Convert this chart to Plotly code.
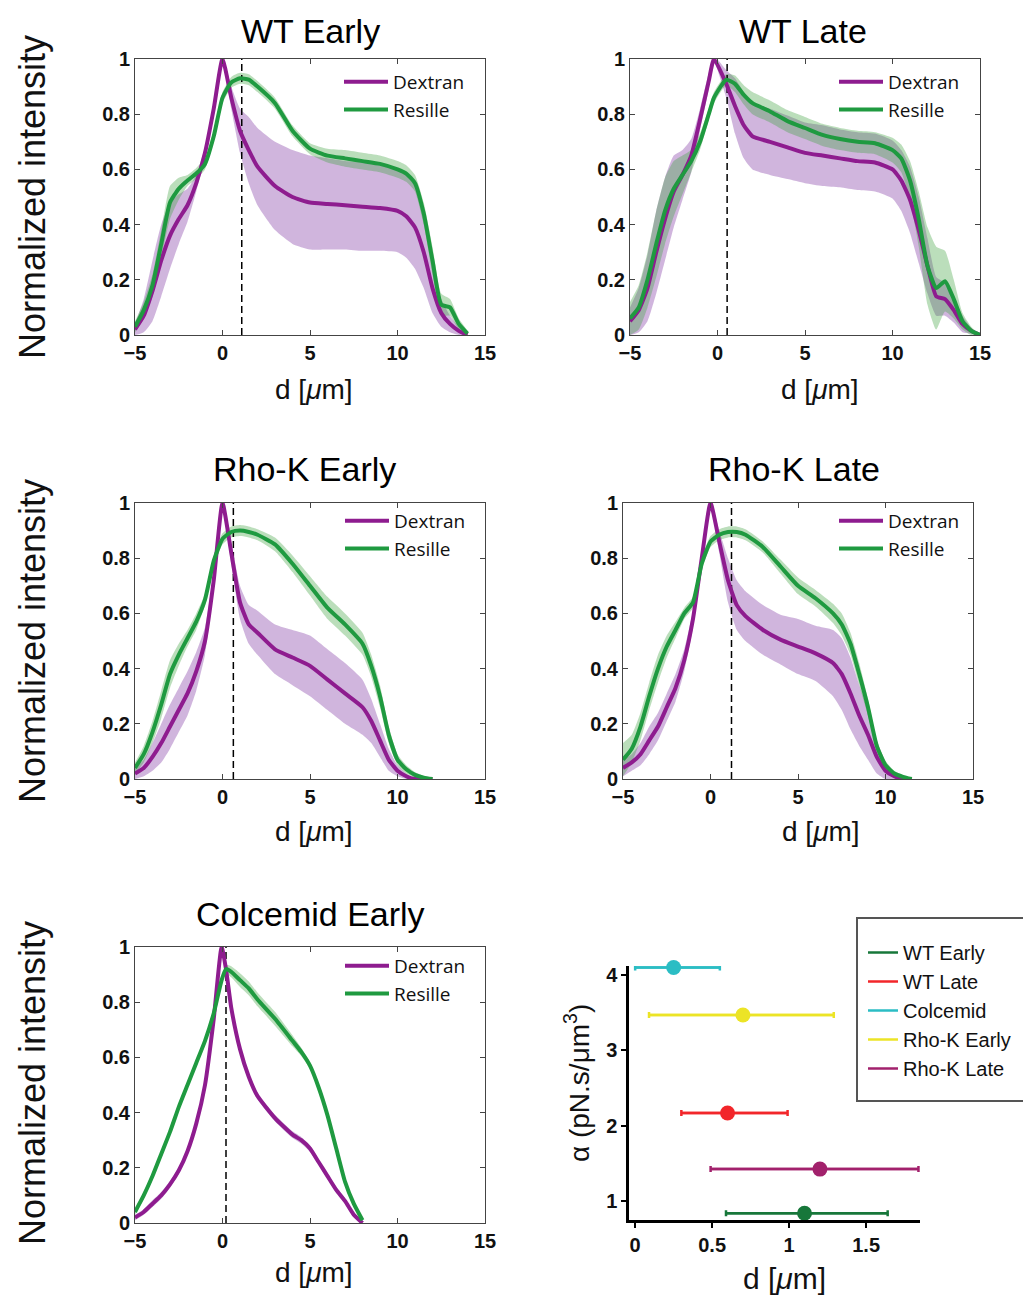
import numpy as np
import plotly.graph_objects as go

# ---------------- data ----------------
series_names = ["Dextran", "Resille"]

# WT Early
wte_x = [-5, -4.5, -4, -3.5, -3, -2.5, -2, -1.5, -1, -0.5, 0, 0.5, 1, 1.5, 2, 3, 4, 5, 6, 7, 8, 9, 10, 10.5, 11, 11.5, 12, 12.5, 13, 13.5, 14]
wte_dex = [0.02, 0.07, 0.16, 0.27, 0.36, 0.42, 0.47, 0.55, 0.66, 0.82, 1.00, 0.86, 0.74, 0.67, 0.61, 0.54, 0.50, 0.48, 0.475, 0.47, 0.465, 0.46, 0.45, 0.43, 0.39, 0.30, 0.17, 0.08, 0.04, 0.015, 0.0]
wte_dex_sd = [0.02, 0.06, 0.11, 0.13, 0.12, 0.09, 0.06, 0.03, 0.02, 0.02, 0.01, 0.04, 0.08, 0.12, 0.14, 0.16, 0.17, 0.17, 0.165, 0.16, 0.16, 0.155, 0.15, 0.15, 0.15, 0.13, 0.09, 0.05, 0.03, 0.015, 0.0]
wte_res = [0.03, 0.09, 0.18, 0.33, 0.48, 0.53, 0.56, 0.585, 0.62, 0.72, 0.86, 0.915, 0.93, 0.925, 0.90, 0.84, 0.74, 0.675, 0.65, 0.64, 0.63, 0.62, 0.60, 0.585, 0.55, 0.44, 0.27, 0.11, 0.10, 0.04, 0.005]
wte_res_sd = [0.02, 0.03, 0.04, 0.05, 0.06, 0.04, 0.02, 0.02, 0.02, 0.02, 0.02, 0.02, 0.02, 0.02, 0.02, 0.02, 0.02, 0.02, 0.025, 0.03, 0.03, 0.03, 0.03, 0.03, 0.03, 0.04, 0.05, 0.04, 0.03, 0.02, 0.01]
wte_d = 1.1

# WT Late
wtl_x = [-5, -4.5, -4, -3.5, -3, -2.5, -2, -1.5, -1, -0.5, -0.2, 0.5, 1, 1.5, 2, 3, 4, 5, 6, 7, 8, 9, 10, 10.5, 11, 11.5, 12, 12.5, 13, 13.5, 14, 14.5, 15]
wtl_dex = [0.05, 0.09, 0.17, 0.30, 0.42, 0.52, 0.58, 0.65, 0.78, 0.92, 1.00, 0.91, 0.83, 0.76, 0.72, 0.70, 0.68, 0.66, 0.65, 0.64, 0.63, 0.625, 0.60, 0.56, 0.49, 0.38, 0.25, 0.14, 0.13, 0.09, 0.04, 0.015, 0.0]
wtl_dex_sd = [0.05, 0.08, 0.12, 0.15, 0.15, 0.13, 0.09, 0.06, 0.04, 0.03, 0.01, 0.05, 0.10, 0.12, 0.12, 0.12, 0.115, 0.11, 0.11, 0.105, 0.105, 0.105, 0.105, 0.11, 0.12, 0.12, 0.10, 0.07, 0.06, 0.045, 0.03, 0.01, 0.0]
wtl_res = [0.06, 0.10, 0.20, 0.33, 0.45, 0.53, 0.58, 0.63, 0.70, 0.80, 0.86, 0.925, 0.91, 0.87, 0.84, 0.81, 0.775, 0.75, 0.725, 0.71, 0.70, 0.695, 0.67, 0.64, 0.56, 0.42, 0.25, 0.17, 0.195, 0.13, 0.05, 0.015, 0.0]
wtl_res_sd = [0.06, 0.08, 0.10, 0.12, 0.12, 0.10, 0.07, 0.04, 0.03, 0.02, 0.02, 0.02, 0.03, 0.035, 0.04, 0.04, 0.04, 0.04, 0.04, 0.04, 0.04, 0.04, 0.045, 0.05, 0.07, 0.10, 0.14, 0.15, 0.11, 0.07, 0.03, 0.015, 0.0]
wtl_d = 0.55

# Rho-K Early
rke_x = [-5, -4.5, -4, -3.5, -3, -2.5, -2, -1.5, -1, -0.5, 0, 0.5, 1, 1.5, 2, 3, 4, 5, 6, 7, 8, 8.5, 9, 9.5, 10, 10.5, 11, 11.5, 12]
rke_dex = [0.02, 0.04, 0.08, 0.13, 0.19, 0.25, 0.31, 0.39, 0.50, 0.72, 1.00, 0.82, 0.64, 0.56, 0.53, 0.47, 0.44, 0.41, 0.36, 0.31, 0.26, 0.21, 0.14, 0.07, 0.03, 0.01, 0.0, 0.0, 0.0]
rke_dex_sd = [0.02, 0.03, 0.05, 0.07, 0.08, 0.08, 0.08, 0.07, 0.05, 0.03, 0.01, 0.04, 0.06, 0.07, 0.08, 0.09, 0.10, 0.11, 0.11, 0.11, 0.10, 0.08, 0.06, 0.04, 0.02, 0.01, 0.0, 0.0, 0.0]
rke_res = [0.04, 0.09, 0.17, 0.27, 0.38, 0.45, 0.51, 0.57, 0.65, 0.79, 0.87, 0.895, 0.90, 0.895, 0.885, 0.85, 0.78, 0.70, 0.62, 0.56, 0.49, 0.41, 0.30, 0.16, 0.07, 0.035, 0.015, 0.005, 0.0]
rke_res_sd = [0.02, 0.03, 0.04, 0.05, 0.05, 0.04, 0.03, 0.03, 0.02, 0.02, 0.02, 0.02, 0.02, 0.02, 0.02, 0.025, 0.03, 0.035, 0.04, 0.04, 0.04, 0.04, 0.04, 0.03, 0.02, 0.015, 0.01, 0.005, 0.0]
rke_d = 0.62

# Rho-K Late
rkl_x = [-5, -4.5, -4, -3.5, -3, -2.5, -2, -1.5, -1, -0.5, 0, 0.5, 1, 1.5, 2, 3, 4, 5, 6, 7, 7.5, 8, 8.5, 9, 9.5, 10, 10.5, 11, 11.5]
rkl_dex = [0.04, 0.06, 0.09, 0.14, 0.19, 0.26, 0.33, 0.43, 0.58, 0.80, 1.00, 0.86, 0.72, 0.63, 0.59, 0.54, 0.505, 0.48, 0.455, 0.42, 0.38, 0.31, 0.23, 0.16, 0.08, 0.03, 0.01, 0.0, 0.0]
rkl_dex_sd = [0.03, 0.03, 0.04, 0.05, 0.05, 0.05, 0.05, 0.04, 0.03, 0.02, 0.01, 0.04, 0.08, 0.09, 0.09, 0.09, 0.09, 0.10, 0.10, 0.12, 0.13, 0.13, 0.11, 0.09, 0.06, 0.03, 0.01, 0.0, 0.0]
rkl_res = [0.07, 0.11, 0.19, 0.30, 0.40, 0.48, 0.54, 0.60, 0.64, 0.78, 0.86, 0.885, 0.895, 0.895, 0.885, 0.84, 0.77, 0.70, 0.655, 0.60, 0.56, 0.49, 0.38, 0.26, 0.12, 0.05, 0.02, 0.008, 0.0]
rkl_res_sd = [0.06, 0.05, 0.05, 0.05, 0.05, 0.04, 0.03, 0.02, 0.02, 0.02, 0.02, 0.02, 0.02, 0.02, 0.02, 0.02, 0.025, 0.03, 0.03, 0.035, 0.04, 0.04, 0.04, 0.03, 0.02, 0.015, 0.01, 0.005, 0.0]
rkl_d = 1.2

# Colcemid Early
col_x = [-5, -4.5, -4, -3.5, -3, -2.5, -2, -1.5, -1, -0.5, -0.05, 0.2, 0.5, 1, 1.5, 2, 3, 4, 4.5, 5, 5.5, 6, 6.5, 7, 7.5, 8]
col_dex = [0.02, 0.04, 0.07, 0.10, 0.14, 0.19, 0.26, 0.36, 0.50, 0.74, 1.00, 0.92, 0.78, 0.63, 0.53, 0.46, 0.38, 0.32, 0.30, 0.27, 0.22, 0.17, 0.12, 0.08, 0.03, 0.0]
col_dex_sd = [0.01, 0.01, 0.012, 0.012, 0.012, 0.012, 0.012, 0.012, 0.012, 0.01, 0.01, 0.01, 0.01, 0.012, 0.012, 0.012, 0.012, 0.012, 0.012, 0.012, 0.01, 0.01, 0.01, 0.01, 0.008, 0.0]
col_res = [0.04, 0.10, 0.17, 0.25, 0.33, 0.42, 0.50, 0.58, 0.66, 0.76, 0.88, 0.92, 0.91, 0.88, 0.85, 0.81, 0.74, 0.66, 0.62, 0.57, 0.49, 0.39, 0.27, 0.15, 0.07, 0.01]
col_res_sd = [0.01, 0.012, 0.012, 0.012, 0.012, 0.012, 0.012, 0.012, 0.012, 0.012, 0.012, 0.015, 0.02, 0.025, 0.025, 0.025, 0.025, 0.02, 0.015, 0.012, 0.012, 0.01, 0.01, 0.01, 0.01, 0.005]
col_d = 0.2

panel_titles = ["WT Early", "WT Late", "Rho-K Early", "Rho-K Late", "Colcemid Early"]
x_ticks = [-5, 0, 5, 10, 15]
y_ticks = [0, 0.2, 0.4, 0.6, 0.8, 1]

# alpha vs d summary
cond_names = ["WT Early", "WT Late", "Colcemid", "Rho-K Early", "Rho-K Late"]
cond_d = [1.1, 0.6, 0.25, 0.7, 1.2]
cond_d_minus = [0.51, 0.30, 0.25, 0.61, 0.71]
cond_d_plus = [0.54, 0.39, 0.30, 0.59, 0.64]
cond_alpha = [0.84, 2.17, 4.1, 3.47, 1.425]
cond_colors = ["#17773a", "#f2262a", "#2bbdc4", "#ece426", "#a2216c"]
sum_x_ticks = [0, 0.5, 1, 1.5]
sum_y_ticks = [1, 2, 3, 4]

# ---------------- layout helpers ----------------
W, H = 1023, 1297
def fx(px):
    return px / W
def fy(py):
    return 1 - py / H

FONT = "Liberation Sans, Arial, Helvetica, sans-serif"
LEGFONT = "Open Sans, Liberation Sans, Arial, sans-serif"
PURPLE = "#8e1c8f"
GREEN = "#1f9a40"
PURPLE_BAND = "rgba(150,90,180,0.45)"
GREEN_BAND = "rgba(60,160,60,0.35)"

panels = [
    (wte_x, wte_dex, wte_dex_sd, wte_res, wte_res_sd, wte_d),
    (wtl_x, wtl_dex, wtl_dex_sd, wtl_res, wtl_res_sd, wtl_d),
    (rke_x, rke_dex, rke_dex_sd, rke_res, rke_res_sd, rke_d),
    (rkl_x, rkl_dex, rkl_dex_sd, rkl_res, rkl_res_sd, rkl_d),
    (col_x, col_dex, col_dex_sd, col_res, col_res_sd, col_d),
]
# pixel boxes (left, right, top, bottom)
boxes = [
    (135, 485, 59, 335),
    (630, 980, 59, 335),
    (135, 485, 503, 779),
    (623, 973, 503, 779),
    (135, 485, 947, 1223),
]
title_pos = [(310, 31), (803, 31), (304, 469), (794, 469), (310, 914)]
xtitle_pos = [(314, 389), (820, 389), (314, 831), (821, 831), (314, 1272)]
ytitle_pos = [(32, 197), None, (32, 641), None, (32, 1083)]
legend_pos = [(339, 63), (834, 63), (340, 502), (834, 502), (340, 947)]

fig = go.Figure()
layout = dict(
    width=W, height=H,
    margin=dict(l=0, r=0, t=0, b=0, autoexpand=False),
    paper_bgcolor="white", plot_bgcolor="white",
    font=dict(family=FONT, color="black"),
    showlegend=True,
)
annotations = []

for i, (xs, dex, dsd, res, rsd, dline) in enumerate(panels):
    n = i + 1
    xa = "x" if n == 1 else f"x{n}"
    ya = "y" if n == 1 else f"y{n}"
    lg = "legend" if n == 1 else f"legend{n}"
    xarr = np.array(xs, dtype=float)
    for mean, sd, band in ((dex, dsd, PURPLE_BAND), (res, rsd, GREEN_BAND)):
        m = np.array(mean); s = np.array(sd)
        lo = np.clip(m - s, 0, None); hi = m + s
        fig.add_trace(go.Scatter(
            x=np.concatenate([xarr, xarr[::-1]]), y=np.concatenate([lo, hi[::-1]]),
            fill="toself", fillcolor=band, line=dict(width=0, shape="spline", smoothing=0.5),
            mode="lines", hoverinfo="skip", showlegend=False, xaxis=xa, yaxis=ya))
    fig.add_trace(go.Scatter(x=[dline, dline], y=[0, 1], mode="lines",
                             line=dict(color="black", width=1.5, dash="7px,4px"),
                             showlegend=False, xaxis=xa, yaxis=ya))
    for name, mean, col in ((series_names[0], dex, PURPLE), (series_names[1], res, GREEN)):
        fig.add_trace(go.Scatter(x=xs, y=mean, mode="lines", name=name,
                                 line=dict(color=col, width=4, shape="spline", smoothing=0.5),
                                 xaxis=xa, yaxis=ya, legend=lg))
    l, r, t, b = boxes[i]
    axcommon = dict(showgrid=False, zeroline=False, showline=True, mirror="ticks",
                    linecolor="#444", linewidth=1, ticks="inside", ticklen=5,
                    tickcolor="#444", tickwidth=1,
                    tickfont=dict(family=FONT, size=20, weight="bold", color="#111"))
    layout["xaxis" if n == 1 else f"xaxis{n}"] = dict(
        domain=[fx(l), fx(r)], range=[-5, 15], tickvals=x_ticks,
        anchor=ya, **axcommon)
    layout["yaxis" if n == 1 else f"yaxis{n}"] = dict(
        domain=[fy(b), fy(t)], range=[0, 1], tickvals=y_ticks,
        anchor=xa, **axcommon)
    lx, ly = legend_pos[i]
    layout[lg] = dict(x=fx(lx), y=fy(ly), xanchor="left", yanchor="top",
                      bgcolor="rgba(0,0,0,0)", borderwidth=0,
                      font=dict(family=LEGFONT, size=19, color="#111"),
                      itemwidth=44)
    tx, ty = title_pos[i]
    annotations.append(dict(text=panel_titles[i], x=fx(tx), y=fy(ty), xref="paper", yref="paper",
                            showarrow=False, xanchor="center", yanchor="middle",
                            font=dict(family=FONT, size=34, color="black")))
    tx, ty = xtitle_pos[i]
    annotations.append(dict(text="d [<i>μ</i>m]", x=fx(tx), y=fy(ty), xref="paper", yref="paper",
                            showarrow=False, xanchor="center", yanchor="middle",
                            font=dict(family=FONT, size=28, color="#111")))
    if ytitle_pos[i] is not None:
        tx, ty = ytitle_pos[i]
        annotations.append(dict(text="Normalized intensity", x=fx(tx), y=fy(ty), xref="paper",
                                yref="paper", showarrow=False, textangle=-90,
                                xanchor="center", yanchor="middle",
                                font=dict(family=FONT, size=36, color="#111")))

# ---------------- summary panel ----------------
for name, d, dm, dp, a, c in zip(cond_names, cond_d, cond_d_minus, cond_d_plus, cond_alpha, cond_colors):
    fig.add_trace(go.Scatter(x=[d - dm, d + dp], y=[a, a], mode="lines", name=name,
                             line=dict(color=c, width=2.5), xaxis="x6", yaxis="y6",
                             legend="legend6", cliponaxis=False))
    fig.add_trace(go.Scatter(x=[d], y=[a], mode="markers", showlegend=False,
                             marker=dict(color=c, size=15),
                             error_x=dict(type="data", symmetric=False, array=[dp], arrayminus=[dm],
                                          color=c, thickness=2.5, width=3),
                             xaxis="x6", yaxis="y6", cliponaxis=False))

sumax = dict(showgrid=False, zeroline=False, showline=True, linecolor="black", linewidth=2.5,
             ticks="outside", ticklen=5, tickwidth=2, tickcolor="black",
             tickfont=dict(family=FONT, size=20, weight="bold", color="#111"))
layout["xaxis6"] = dict(domain=[fx(629), fx(920)], range=[-0.04, 1.85], tickvals=sum_x_ticks,
                        ticktext=["0", "0.5", "1", "1.5"], anchor="y6", **sumax)
layout["yaxis6"] = dict(domain=[fy(1220), fy(966)], range=[0.75, 4.12], tickvals=sum_y_ticks,
                        anchor="x6", **sumax)
layout["legend6"] = dict(x=fx(863), y=fy(933), xanchor="left", yanchor="top",
                         bgcolor="rgba(0,0,0,0)", borderwidth=0,
                         font=dict(family=FONT, size=20, color="#111"))
annotations.append(dict(text="α (pN.s/μm<sup>3</sup>)", x=fx(577), y=fy(1083), xref="paper",
                        yref="paper", showarrow=False, textangle=-90, xanchor="center",
                        yanchor="middle", font=dict(family=FONT, size=28, color="#111")))
annotations.append(dict(text="d [<i>μ</i>m]", x=fx(784), y=fy(1278), xref="paper", yref="paper",
                        showarrow=False, xanchor="center", yanchor="middle",
                        font=dict(family=FONT, size=30, color="#111")))

layout["annotations"] = annotations
layout["shapes"] = [dict(type="rect", xref="paper", yref="paper", x0=fx(857), x1=fx(1040),
                         y0=fy(1101), y1=fy(918), line=dict(color="#555", width=2),
                         fillcolor="white", layer="above")]
fig.update_layout(**layout)
fig.write_html("out.html")
